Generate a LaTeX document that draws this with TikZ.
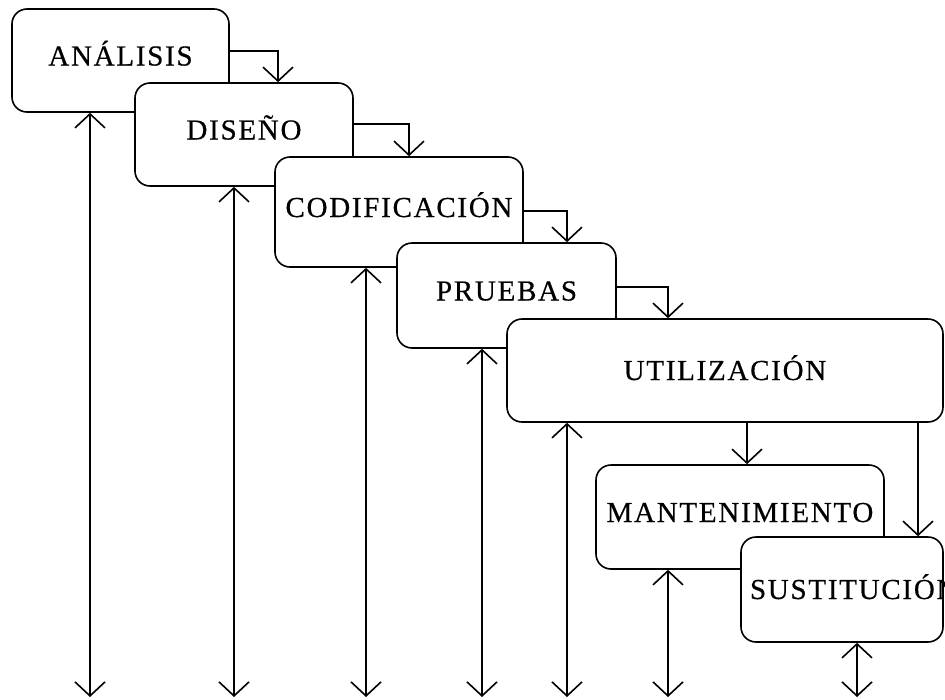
\documentclass[tikz,border=0pt]{standalone}
\usepackage{fontspec}
\setmainfont[LetterSpace=6,FakeBold=0.5]{Liberation Serif}
\usetikzlibrary{arrows.meta}
\begin{document}
\begin{tikzpicture}[x=1pt,y=-1pt,
    stage/.style={draw,fill=white,rounded corners=15pt,line width=1.6pt,
      inner xsep=0pt,inner ysep=0pt,align=center,
      font=\fontsize{29}{34}\selectfont,text height=19pt,text depth=9pt},
    flow/.style={line width=1.6pt,-{Straight Barb[length=14pt,width=30pt]}},
    both/.style={line width=1.6pt,
      {Straight Barb[length=14pt,width=30pt]}-{Straight Barb[length=14pt,width=30pt]}}]
  \useasboundingbox (0,0) rectangle (945,699);

  \node[stage,text width=217pt,minimum height=103pt] (ana) at (120.5,60.5) {ANÁLISIS};
  \node[stage,text width=218pt,minimum height=103pt] (dis) at (244,134.5) {DISEÑO};
  \node[stage,text width=248pt,minimum height=110pt] (cod) at (399,212) {CODIFICACIÓN};
  \node[stage,text width=219pt,minimum height=105pt] (pru) at (506.5,295.5) {PRUEBAS};
  \node[stage,text width=436pt,minimum height=103pt,text depth=0pt] (uti) at (725,370.5) {UTILIZACIÓN};
  \node[stage,text width=288pt,minimum height=104pt] (man) at (740,517) {MANTENIMIENTO};
  \node[stage,text width=184pt,inner xsep=9pt,minimum height=105pt,text depth=0pt] (sus) at (842,589.5) {SUSTITUCIÓN};

  % one stage hands over to the next
  \draw[flow] ([yshift=9.5pt]ana.east) -| ([xshift=34pt]dis.north);
  \draw[flow] ([yshift=10.5pt]dis.east) -| ([xshift=10pt]cod.north);
  \draw[flow] ([yshift=1pt]cod.east) -| ([xshift=60.5pt]pru.north);
  \draw[flow] ([yshift=8.5pt]pru.east) -| ([xshift=-57pt]uti.north);
  \draw[flow] ([xshift=22pt]uti.south) -- ([xshift=7pt]man.north);
  \draw[flow] ([xshift=193pt]uti.south) -- ([xshift=76pt]sus.north);

  % feedback lines down to the bottom
  \coordinate (e1) at (90,697);
  \coordinate (e2) at (234,697);
  \coordinate (e3) at (366,697);
  \coordinate (e4) at (482,697);
  \coordinate (e5) at (567,697);
  \coordinate (e6) at (668,697);
  \coordinate (e7) at (857,697);
  \draw[both] (ana.south -| e1) -- (e1);
  \draw[both] (dis.south -| e2) -- (e2);
  \draw[both] (cod.south -| e3) -- (e3);
  \draw[both] (pru.south -| e4) -- (e4);
  \draw[both] (uti.south -| e5) -- (e5);
  \draw[both] (man.south -| e6) -- (e6);
  \draw[both] (sus.south -| e7) -- (e7);
\end{tikzpicture}
\end{document}
